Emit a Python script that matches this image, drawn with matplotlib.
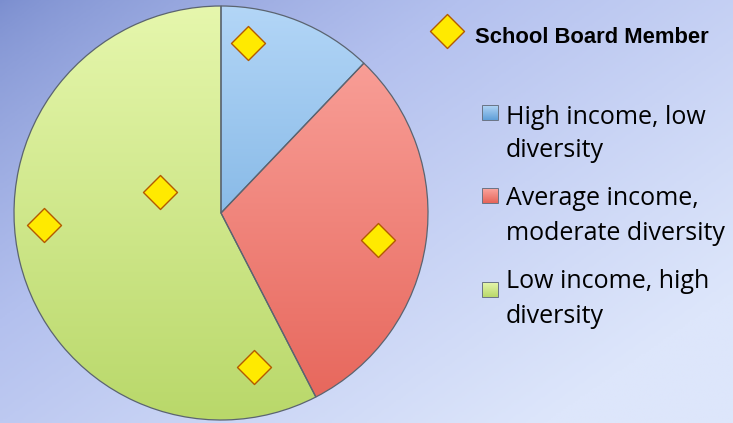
import numpy as np
import matplotlib
matplotlib.use("Agg")
import matplotlib.pyplot as plt
from matplotlib.patches import Rectangle
from matplotlib.colors import LinearSegmentedColormap

# ---- data ----
categories = [["High income, low", "diversity"],
              ["Average income,", "moderate diversity"],
              ["Low income, high", "diversity"]]
shares = [4, 10, 19]
marker_label = "School Board Member"
marker_x = [0.129, -0.295, -0.855, 0.757, 0.161]
marker_y = [0.820, 0.100, -0.059, -0.130, -0.743]

# ---- styles ----
light = ["#b3d6f7", "#fba7a0", "#e6f7ad"]
dark = ["#5f9fd8", "#e66459", "#b9d86a"]

W, H = 733, 423
fig = plt.figure(figsize=(W / 100, H / 100), dpi=100)

# background gradient
bg = fig.add_axes([0, 0, 1, 1])
bg.set_axis_off()
yy, xx = np.mgrid[0:1:200j, 0:1:300j]
t = np.clip((xx * 0.6 + yy * 0.5) / 0.95, 0, 1) ** 0.75
bgcm = LinearSegmentedColormap.from_list("bg", ["#7b8ecf", "#b3c0ee", "#dde6fb"])
bg.imshow(t, cmap=bgcm, extent=[0, 1, 0, 1], aspect="auto", origin="upper")
bg.set_xlim(0, 1)
bg.set_ylim(0, 1)

# pie axes: centre (221,213) px, radius 207 px
cx, cy, r = 221, 213, 207
ax = fig.add_axes([(cx - r) / W, (H - cy - r) / H, 2 * r / W, 2 * r / H])
ax.set_axis_off()
wedges, _ = ax.pie(shares, startangle=90, counterclock=False, colors=light,
                   radius=1.0,
                   wedgeprops=dict(edgecolor="#5b6470", linewidth=0.9))
ax.set_xlim(-1.0, 1.0)
ax.set_ylim(-1.0, 1.0)
ax.set_aspect("equal")

gy = np.linspace(0, 1, 256).reshape(-1, 1)
for w, lc, dc in zip(wedges, light, dark):
    cm = LinearSegmentedColormap.from_list("g", [lc, dc])
    im = ax.imshow(gy, cmap=cm, extent=[-1, 1, -1, 1], origin="upper",
                   aspect="auto", zorder=2)
    im.set_clip_path(w)
    w.set_facecolor("none")
    w.set_zorder(3)

ax.scatter(marker_x, marker_y, marker="D", s=300, facecolor="#ffea00",
           edgecolor="#b35a00", linewidth=1.0, zorder=10, clip_on=False)

# legend (manual, pixel coordinates)
lx = fig.add_axes([0, 0, 1, 1], facecolor="none")
lx.set_axis_off()
lx.scatter([447], [31], marker="D", s=300, facecolor="#ffea00",
           edgecolor="#b35a00", linewidth=1.0, zorder=10)
lx.text(475, 43, marker_label, fontsize=15.8, fontweight="bold",
        family="Liberation Sans", va="baseline", ha="left", color="black")

tops = [105, 188, 282]
baselines = [(124, 157), (205, 240), (288, 323)]
for top, lines, bl, lc, dc in zip(tops, categories, baselines, light, dark):
    cm = LinearSegmentedColormap.from_list("g", [lc, dc])
    lx.imshow(gy, cmap=cm, extent=[482, 498, top + 15, top], origin="upper",
              aspect="auto", zorder=3)
    lx.add_patch(Rectangle((482, top), 16, 15, fill=False, edgecolor="#6a7485",
                           linewidth=0.7, zorder=4))
    for ln, b in zip(lines, bl):
        lx.text(506, b, ln, fontsize=18, family="Open Sans",
                va="baseline", ha="left", color="black")
lx.set_xlim(0, W)
lx.set_ylim(H, 0)

fig.savefig("out.png", dpi=100)
